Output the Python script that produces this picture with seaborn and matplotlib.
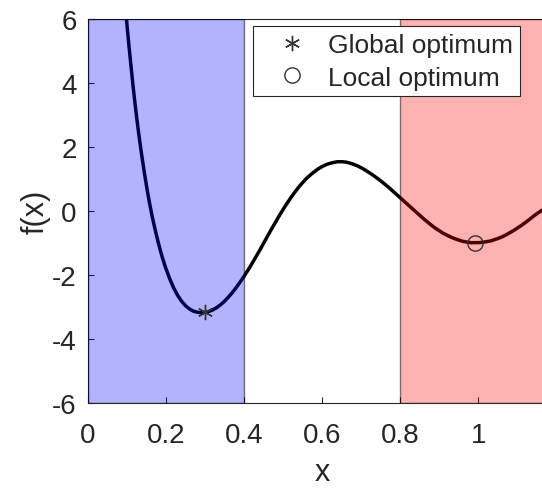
import matplotlib
matplotlib.use("Agg")
import matplotlib.pyplot as plt
import seaborn as sns

# --- dati ---
curve_x = [0.095, 0.100, 0.105, 0.110, 0.115, 0.120, 0.125, 0.130, 0.135, 0.140,
           0.145, 0.150, 0.155, 0.160, 0.165, 0.170, 0.175, 0.180, 0.185, 0.190,
           0.195, 0.200, 0.210, 0.220, 0.230, 0.240, 0.250, 0.260, 0.270, 0.280,
           0.290, 0.300, 0.310, 0.320, 0.330, 0.340, 0.350, 0.360, 0.370, 0.380,
           0.390, 0.400, 0.410, 0.420, 0.430, 0.440, 0.450, 0.460, 0.470, 0.480,
           0.490, 0.500, 0.510, 0.520, 0.530, 0.540, 0.550, 0.560, 0.570, 0.580,
           0.590, 0.600, 0.610, 0.620, 0.630, 0.640, 0.650, 0.660, 0.670, 0.680,
           0.690, 0.700, 0.710, 0.720, 0.730, 0.740, 0.750, 0.760, 0.770, 0.780,
           0.790, 0.800, 0.810, 0.820, 0.830, 0.840, 0.850, 0.860, 0.870, 0.880,
           0.890, 0.900, 0.910, 0.920, 0.930, 0.940, 0.950, 0.960, 0.970, 0.980,
           0.990, 1.000, 1.010, 1.020, 1.030, 1.040, 1.050, 1.060, 1.070, 1.080,
           1.090, 1.100, 1.110, 1.120, 1.130, 1.140, 1.150, 1.160, 1.170, 1.180,
           1.190, 1.200]
curve_y = [6.60, 5.85, 5.20, 4.60, 4.00, 3.45, 2.93, 2.45, 2.00, 1.58,
           1.18, 0.80, 0.45, 0.12, -0.18, -0.46, -0.72, -0.97, -1.20, -1.42,
           -1.62, -1.80, -2.13, -2.41, -2.64, -2.82, -2.96, -3.06, -3.13, -3.165,
           -3.18, -3.17, -3.14, -3.09, -3.02, -2.93, -2.82, -2.69, -2.55, -2.39,
           -2.22, -2.04, -1.85, -1.65, -1.44, -1.23, -1.01, -0.79, -0.57, -0.36,
           -0.15, 0.05, 0.24, 0.42, 0.59, 0.75, 0.89, 1.02, 1.13, 1.23,
           1.32, 1.39, 1.45, 1.49, 1.52, 1.54, 1.54, 1.53, 1.50, 1.46,
           1.41, 1.35, 1.28, 1.20, 1.12, 1.03, 0.94, 0.84, 0.74, 0.63,
           0.52, 0.41, 0.30, 0.19, 0.08, -0.03, -0.14, -0.25, -0.35, -0.45,
           -0.54, -0.62, -0.70, -0.76, -0.82, -0.87, -0.91, -0.95, -0.97, -0.99,
           -0.99, -0.99, -0.98, -0.96, -0.94, -0.90, -0.86, -0.81, -0.75, -0.68,
           -0.61, -0.53, -0.45, -0.36, -0.27, -0.17, -0.08, 0.00, 0.09, 0.18,
           0.27, 0.36]

glob_x, glob_y = 0.300, -3.17
loc_x, loc_y = 0.990, -0.99

blue_region = (0.0, 0.4)
red_region = (0.8, 1.2)

xticks = [0, 0.2, 0.4, 0.6, 0.8, 1.0]
xtick_labels = ["0", "0.2", "0.4", "0.6", "0.8", "1"]
yticks = [-6, -4, -2, 0, 2, 4, 6]

# --- stile ---
sns.set_theme(style="ticks")
plt.rcParams["font.family"] = ["Liberation Sans", "DejaVu Sans"]
plt.rcParams["axes.unicode_minus"] = False
plt.rcParams["axes.edgecolor"] = "#262626"
plt.rcParams["axes.linewidth"] = 0.8

fig = plt.figure(figsize=(5.42, 4.89), dpi=100)
ax = fig.add_axes([0.162, 0.174, 0.865, 0.785])

sns.lineplot(x=curve_x, y=curve_y, color="black", linewidth=2.5, sort=False,
             ax=ax, zorder=2)

# regioni colorate sopra la curva (trasparenti)
ax.axvspan(*blue_region, facecolor=(0, 0, 1, 0.3), edgecolor=(0, 0, 0, 0.5),
           linewidth=1, zorder=3)
ax.axvspan(*red_region, facecolor=(1, 0, 0, 0.3), edgecolor=(0, 0, 0, 0.5),
           linewidth=1, zorder=3)

ax.plot([glob_x], [glob_y], linestyle="none", marker=(6, 2, 0), markersize=11,
        markeredgecolor="#333333", markeredgewidth=1, color="#333333",
        label="Global optimum", zorder=4)
ax.plot([loc_x], [loc_y], linestyle="none", marker="o", markersize=11,
        markerfacecolor="none", markeredgecolor="#333333", markeredgewidth=1,
        label="Local optimum", zorder=4)

ax.set_xlim(0, 1.2)
ax.set_ylim(-6, 6)
ax.set_xticks(xticks)
ax.set_xticklabels(xtick_labels)
ax.set_yticks(yticks)
ax.tick_params(direction="in", length=4, width=0.8, colors="#262626",
               labelsize=20, labelcolor="#262626")
ax.tick_params(axis="x", pad=14)
ax.tick_params(axis="y", pad=8)
for s in ["top", "right", "left", "bottom"]:
    ax.spines[s].set_visible(True)

ax.set_xlabel("x", fontsize=22, color="#262626", labelpad=6)
ax.set_ylabel("f(x)", fontsize=22, color="#262626", labelpad=1)

leg = ax.legend(loc="upper right", bbox_to_anchor=(0.922, 0.981), fontsize=19,
                frameon=True, fancybox=False, edgecolor="#262626",
                framealpha=1, borderpad=0.25, handlelength=2.4,
                handletextpad=0.2, labelspacing=0.33, borderaxespad=0,
                numpoints=1)
leg.get_frame().set_linewidth(0.8)
leg.set_zorder(10)

fig.savefig("out.png", dpi=100)
